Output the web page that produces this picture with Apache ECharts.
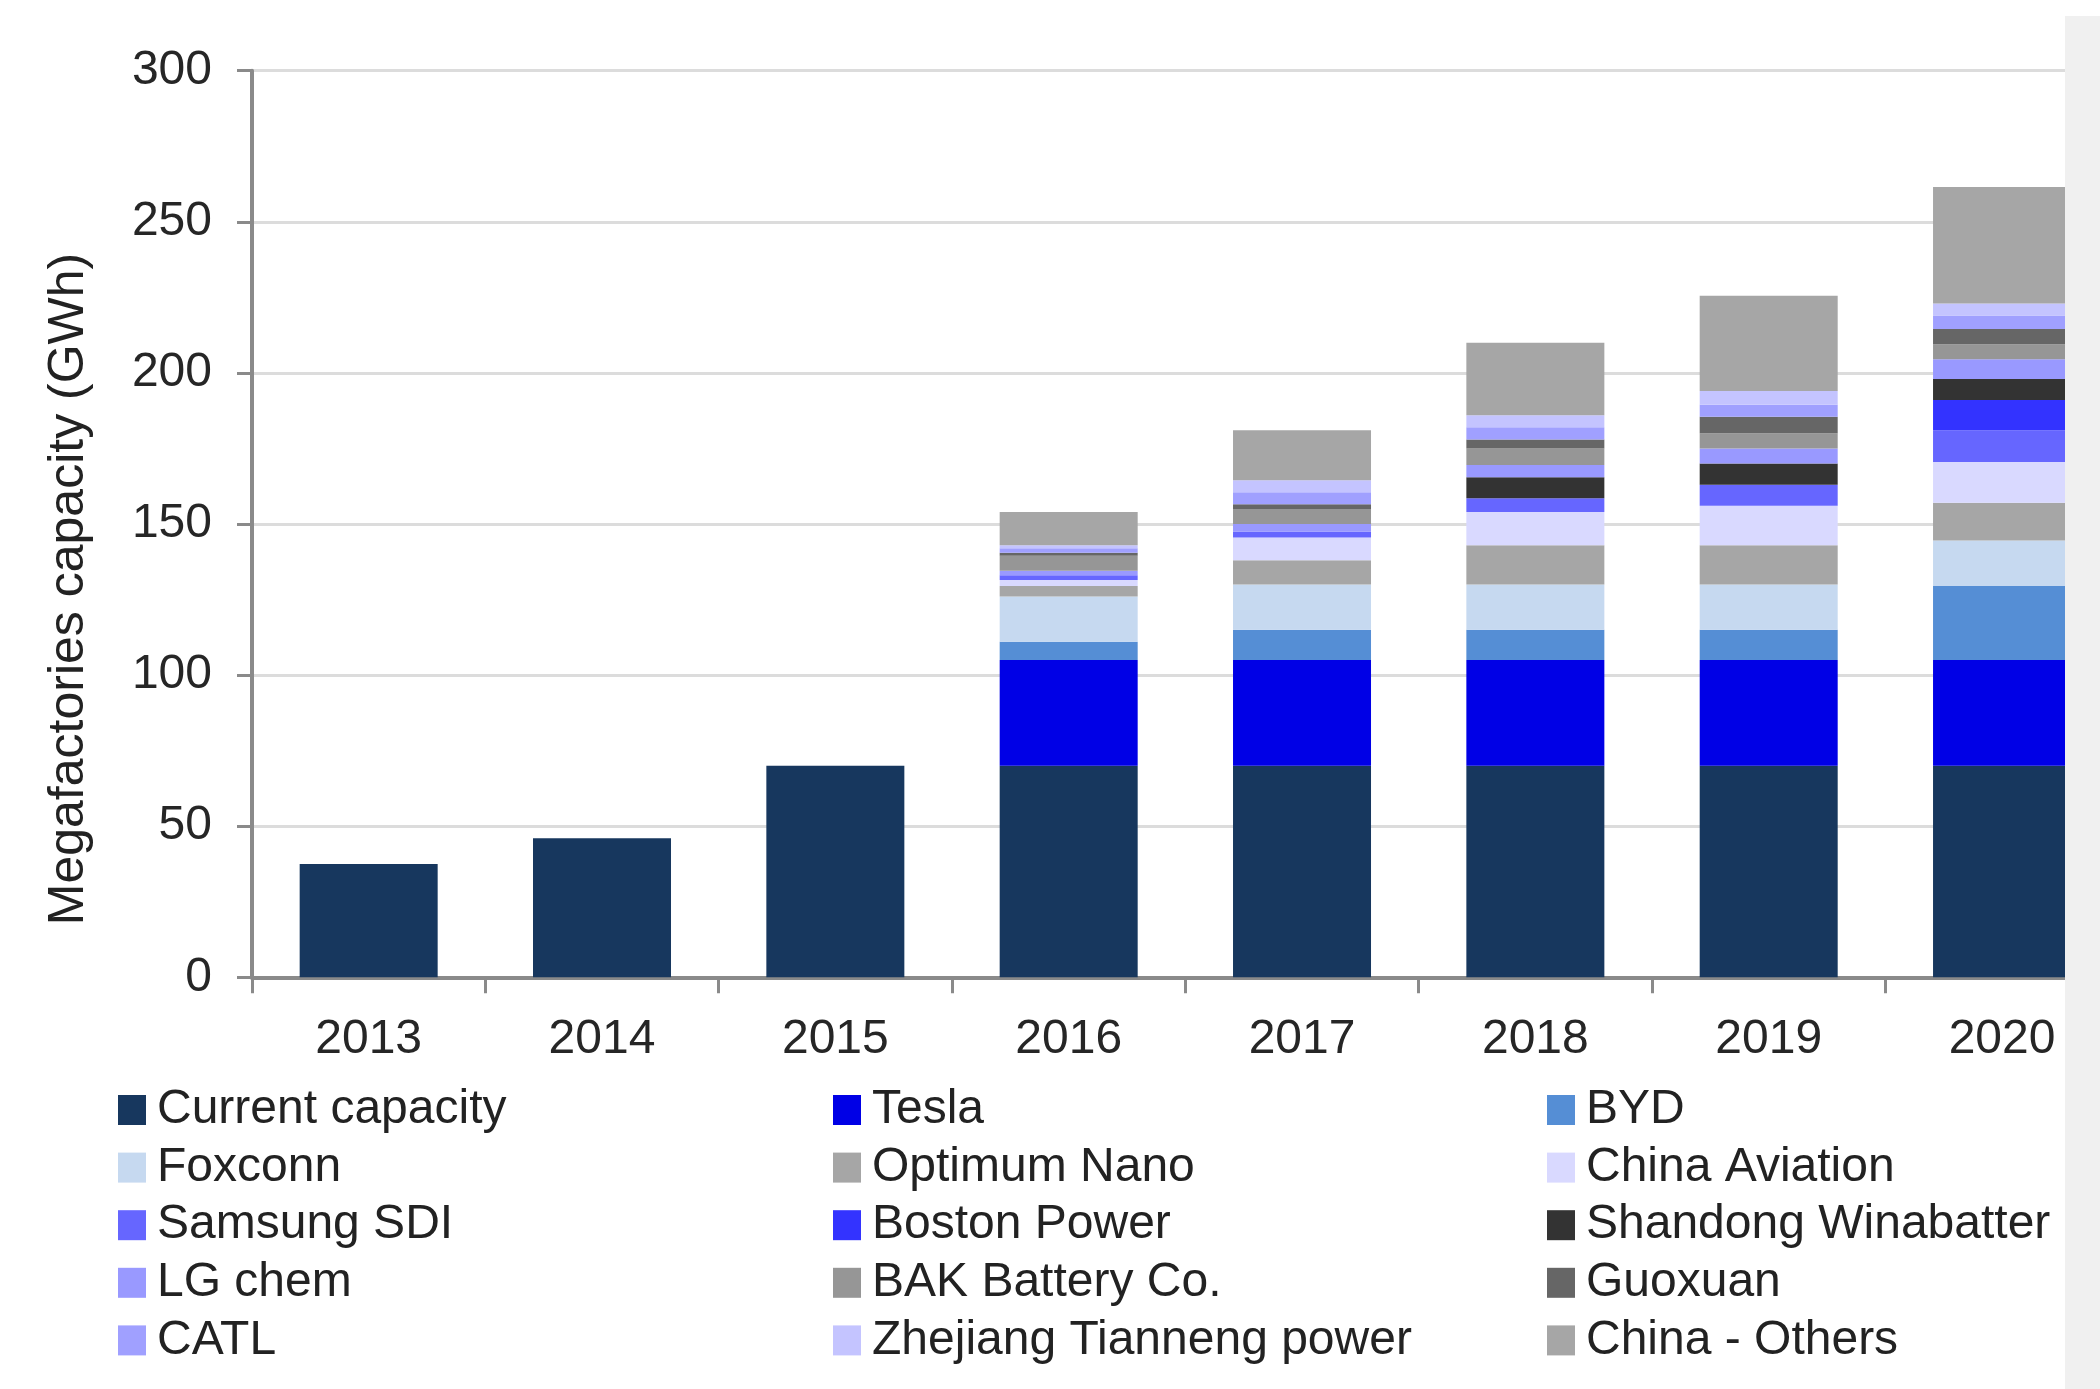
<!DOCTYPE html>
<html>
<head>
<meta charset="utf-8">
<title>Megafactories capacity</title>
<script src="https://cdn.jsdelivr.net/npm/echarts@6/dist/echarts.min.js"></script>
<style>
  html, body { margin: 0; padding: 0; background: #fff; }
  #chart { width: 2100px; height: 1389px; }
</style>
</head>
<body>
<div id="chart"></div>
<script>
// categories
const years = ['2013', '2014', '2015', '2016', '2017', '2018', '2019', '2020']
const yTicks = [0, 50, 100, 150, 200, 250, 300]

// capacity by producer, GWh
const currentCapacity = [37.5, 46, 70, 70, 70, 70, 70, 70]
const tesla = [0, 0, 0, 35, 35, 35, 35, 35]
const byd = [0, 0, 0, 6, 10, 10, 10, 24.5]
const foxconn = [0, 0, 0, 15, 15, 15, 15, 15]
const optimumNano = [0, 0, 0, 3.5, 8, 13, 13, 12.5]
const chinaAviation = [0, 0, 0, 2, 7.5, 11, 13, 13.5]
const samsungSdi = [0, 0, 0, 1.5, 2, 4.5, 7, 10.5]
const bostonPower = [0, 0, 0, 0, 0, 0, 0, 10]
const shandong = [0, 0, 0, 0, 0, 7, 7, 7]
const lgChem = [0, 0, 0, 1.5, 2.5, 4, 5, 6.5]
const bakBattery = [0, 0, 0, 5, 5, 5.5, 5, 5]
const guoxuan = [0, 0, 0, 1, 1.5, 3, 5.5, 5]
const catl = [0, 0, 0, 1.5, 4, 4, 4, 4.5]
const zhejiang = [0, 0, 0, 1, 4, 4, 4.5, 4]
const chinaOthers = [0, 0, 0, 11, 16.5, 24, 31.5, 38.5]

const FONT = '"Liberation Sans", Arial, sans-serif'

const seriesDefs = [
  ['Current capacity', currentCapacity, '#17375e'],
  ['Tesla', tesla, '#0000e6'],
  ['BYD', byd, '#558ed5'],
  ['Foxconn', foxconn, '#c6d9f0'],
  ['Optimum Nano', optimumNano, '#a6a6a6'],
  ['China Aviation', chinaAviation, '#d9d9ff'],
  ['Samsung SDI', samsungSdi, '#6666ff'],
  ['Boston Power', bostonPower, '#3333ff'],
  ['Shandong Winabatter', shandong, '#333333'],
  ['LG chem', lgChem, '#9999ff'],
  ['BAK Battery Co.', bakBattery, '#969696'],
  ['Guoxuan', guoxuan, '#666666'],
  ['CATL', catl, '#a0a0ff'],
  ['Zhejiang Tianneng power', zhejiang, '#c4c4ff'],
  ['China - Others', chinaOthers, '#a6a6a6'],
]

const series = seriesDefs.map(([name, data, color]) => ({
  name,
  type: 'bar',
  stack: 'total',
  data,
  barWidth: 138,
  itemStyle: { color },
  emphasis: { disabled: true },
}))

// legend laid out in 3 columns, 5 rows (row-major order of the series)
const names = seriesDefs.map(s => s[0])
const colLeft = [118, 833, 1547]
const legends = colLeft.map((left, c) => ({
  orient: 'vertical',
  left,
  top: 1086,
  padding: 0,
  itemGap: 9.6,
  itemWidth: 28,
  itemHeight: 30,
  icon: 'rect',
  selectedMode: false,
  data: names.filter((_, i) => i % 3 === c),
  textStyle: {
    fontFamily: FONT,
    fontSize: 48,
    color: '#222',
    padding: [0, 0, 0, 6],
  },
}))

const chart = echarts.init(document.getElementById('chart'), null, { renderer: 'canvas' })
chart.setOption({
  animation: false,
  backgroundColor: '#fff',
  grid: { left: 252, top: 70.7, bottom: 411.7, right: -18.7, containLabel: false, outerBoundsMode: 'none' },
  legend: legends,
  xAxis: {
    type: 'category',
    data: years,
    axisLine: { lineStyle: { color: '#8a8a8a', width: 4 } },
    axisTick: { show: true, length: 16, lineStyle: { color: '#8a8a8a', width: 3 } },
    axisLabel: { fontFamily: FONT, fontSize: 48, color: '#262626', margin: 38 },
  },
  yAxis: {
    type: 'value',
    min: yTicks[0],
    max: yTicks[yTicks.length - 1],
    interval: 50,
    axisLine: { show: true, lineStyle: { color: '#8a8a8a', width: 4 } },
    axisTick: { show: true, length: 15, lineStyle: { color: '#8a8a8a', width: 3 } },
    axisLabel: { fontFamily: FONT, fontSize: 48, color: '#262626', margin: 40 },
    splitLine: { lineStyle: { color: '#dcdcdc', width: 3 } },
  },
  graphic: [
    {
      type: 'text',
      x: 69,
      y: 589,
      rotation: Math.PI / 2,
      style: {
        text: 'Megafactories capacity (GWh)',
        font: '50px "Liberation Sans", Arial, sans-serif',
        fill: '#222',
        align: 'center',
        verticalAlign: 'middle',
      },
    },
    {
      type: 'rect',
      z: 100,
      shape: { x: 2065, y: 16, width: 35, height: 1373 },
      style: { fill: '#f0f0f0' },
    },
  ],
  series,
})
</script>
</body>
</html>
